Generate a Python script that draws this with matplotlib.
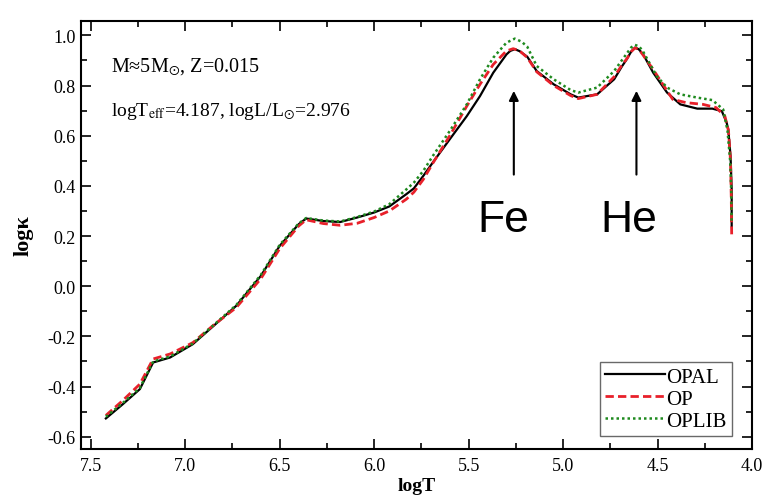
import numpy as np
import matplotlib
matplotlib.use("Agg")
import matplotlib.pyplot as plt
from matplotlib.ticker import MultipleLocator

plt.rcParams['font.family'] = ['Liberation Serif', 'DejaVu Serif']
plt.rcParams['mathtext.fontset'] = 'stix'

# OPAL (black solid)
opal_logT = [7.42, 7.33, 7.24, 7.17, 7.08, 6.96, 6.85, 6.73, 6.60, 6.50, 6.40, 6.36, 6.27,
             6.18, 6.09, 6.00, 5.92, 5.83, 5.79, 5.74, 5.69, 5.60, 5.51, 5.44, 5.37, 5.30,
             5.28, 5.256, 5.23, 5.19, 5.14, 5.05, 4.96, 4.92, 4.82, 4.73, 4.69, 4.664, 4.64,
             4.62, 4.60, 4.576, 4.523, 4.45, 4.38, 4.29, 4.21, 4.16, 4.135, 4.126, 4.114,
             4.108, 4.108]
opal_logk = [-0.527, -0.47, -0.41, -0.304, -0.284, -0.231, -0.158, -0.078, 0.041, 0.161,
             0.247, 0.270, 0.260, 0.256, 0.274, 0.294, 0.318, 0.367, 0.39, 0.44, 0.493,
             0.586, 0.678, 0.758, 0.851, 0.924, 0.938, 0.945, 0.937, 0.915, 0.858, 0.805,
             0.765, 0.752, 0.765, 0.825, 0.875, 0.904, 0.935, 0.951, 0.945, 0.924, 0.851,
             0.772, 0.725, 0.708, 0.708, 0.698, 0.653, 0.625, 0.519, 0.386, 0.24]

# OP (red dashed)
op_logT = [7.42, 7.33, 7.24, 7.17, 7.08, 6.96, 6.85, 6.73, 6.60, 6.50, 6.40, 6.36, 6.27,
           6.18, 6.09, 6.00, 5.92, 5.83, 5.79, 5.74, 5.69, 5.60, 5.51, 5.44, 5.37, 5.30,
           5.264, 5.23, 5.19, 5.14, 5.05, 4.96, 4.92, 4.82, 4.73, 4.69, 4.66, 4.64, 4.62,
           4.60, 4.58, 4.52, 4.42, 4.35, 4.26, 4.19, 4.144, 4.125, 4.114, 4.11, 4.108]
op_logk = [-0.515, -0.455, -0.39, -0.29, -0.27, -0.225, -0.155, -0.085, 0.03, 0.15, 0.24,
           0.265, 0.25, 0.243, 0.251, 0.274, 0.300, 0.347, 0.375, 0.426, 0.49, 0.60,
           0.718, 0.805, 0.884, 0.938, 0.947, 0.938, 0.912, 0.855, 0.80, 0.76, 0.748,
           0.765, 0.835, 0.88, 0.91, 0.935, 0.95, 0.945, 0.925, 0.86, 0.745, 0.732, 0.725,
           0.712, 0.678, 0.62, 0.50, 0.35, 0.207]

# OPLIB (green dotted)
oplib_logT = [7.42, 7.33, 7.24, 7.17, 7.08, 6.96, 6.85, 6.73, 6.60, 6.50, 6.40, 6.36, 6.27,
              6.18, 6.09, 6.00, 5.92, 5.83, 5.79, 5.74, 5.69, 5.60, 5.51, 5.44, 5.37, 5.30,
              5.256, 5.22, 5.19, 5.14, 5.05, 4.96, 4.92, 4.82, 4.73, 4.69, 4.66, 4.64, 4.62,
              4.60, 4.58, 4.505, 4.45, 4.38, 4.29, 4.21, 4.153, 4.13, 4.116, 4.11, 4.108]
oplib_logk = [-0.52, -0.465, -0.405, -0.30, -0.28, -0.228, -0.155, -0.075, 0.045, 0.165,
              0.25, 0.272, 0.262, 0.258, 0.276, 0.298, 0.327, 0.386, 0.413, 0.46, 0.519,
              0.619, 0.725, 0.825, 0.911, 0.971, 0.987, 0.975, 0.955, 0.878, 0.825, 0.782,
              0.772, 0.792, 0.858, 0.90, 0.931, 0.952, 0.962, 0.957, 0.94, 0.838, 0.792,
              0.765, 0.752, 0.742, 0.705, 0.62, 0.50, 0.37, 0.25]

fig = plt.figure(figsize=(7.69, 5.02), dpi=100)
ax = fig.add_axes([0.105, 0.104, 0.873, 0.852])

ax.plot(opal_logT, opal_logk, color='black', lw=1.6, label='OPAL')
ax.plot(op_logT, op_logk, color='#e8202a', lw=2.0, ls=(0, (3, 1.5)), label='OP')
ax.plot(oplib_logT, oplib_logk, color='#1e8a1e', lw=1.8, ls=(0, (1, 1.2)), label='OPLIB')

ax.set_xlim(7.553, 4.0)
ax.set_ylim(-0.648, 1.057)
ax.xaxis.set_major_locator(MultipleLocator(0.5))
ax.xaxis.set_minor_locator(MultipleLocator(0.25))
ax.yaxis.set_major_locator(MultipleLocator(0.2))
ax.yaxis.set_minor_locator(MultipleLocator(0.1))
ax.tick_params(which='both', direction='in', top=True, right=True, labelsize=13, width=1.2)
ax.tick_params(which='major', length=7)
ax.tick_params(which='minor', length=4)
ax.tick_params(axis='x', pad=6)
for s in ax.spines.values():
    s.set_linewidth(1.5)

ax.set_xticklabels([f'{v:.1f}' for v in ax.get_xticks()])
ax.set_yticklabels([f'{v:.1f}' for v in ax.get_yticks()])

ax.set_xlabel('logT', fontsize=14, fontweight='bold', labelpad=2)
ax.set_ylabel('log\u03ba', fontsize=16, fontweight='bold', labelpad=10)

ax.text(0.045, 0.895, 'M\u22485M$_{\\odot}$, Z=0.015', transform=ax.transAxes,
        fontsize=14.5, va='center')
ax.text(0.045, 0.79, r'logT$_{\rm eff}$=4.187, logL/L$_{\odot}$=2.976', transform=ax.transAxes,
        fontsize=14, va='center')

# Fe / He bump markers
arrowprops = dict(arrowstyle='-|>', color='black', lw=1.5, mutation_scale=14)
ax.annotate('', xy=(5.261, 0.79), xytext=(5.261, 0.434), arrowprops=arrowprops)
ax.annotate('', xy=(4.612, 0.79), xytext=(4.612, 0.434), arrowprops=arrowprops)
ax.text(5.315, 0.265, 'Fe', fontsize=32, family='Liberation Sans', ha='center', va='center')
ax.text(4.65, 0.265, 'He', fontsize=32, family='Liberation Sans', ha='center', va='center')

leg = ax.legend(loc='lower right', fontsize=15, handlelength=2.9, handletextpad=0.05,
                fancybox=False, borderpad=0.25, labelspacing=0.12, borderaxespad=0.0,
                bbox_to_anchor=(0.97, 0.03))
leg.get_frame().set_edgecolor('#444444')
leg.get_frame().set_linewidth(1.0)

fig.savefig('out.png', dpi=100)
